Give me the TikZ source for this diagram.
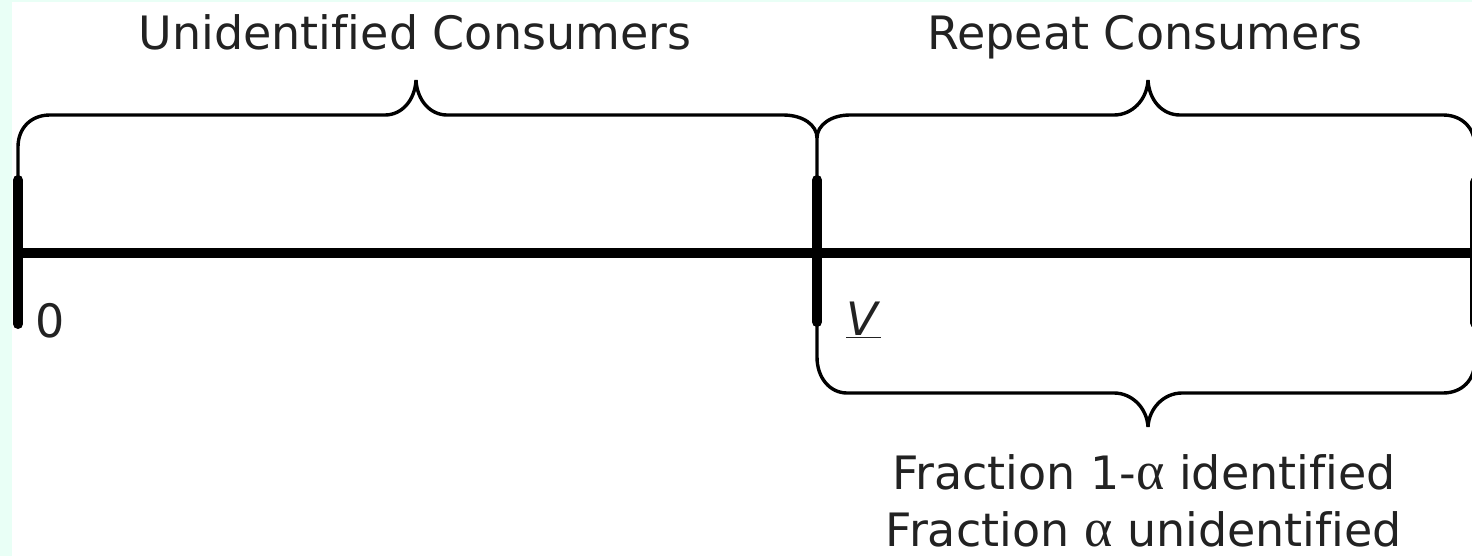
\documentclass[tikz,border=0pt]{standalone}
\usepackage{fontspec}
\setmainfont[Ligatures=NoCommon]{DejaVu Sans}
\newfontfamily\alphafont{Liberation Serif}
\definecolor{mint}{HTML}{E9FFF6}
\definecolor{ink}{HTML}{222222}
\newcommand{\alp}{{\alphafont\fontsize{27}{28}\selectfont α}}
\begin{document}
\begin{tikzpicture}[x=0.5pt,y=-0.5pt,
  axisline/.style={line width=5pt,black},
  tickline/.style={line width=5pt,black,line cap=round},
  braceline/.style={line width=1.7pt,black},
  lbl/.style={inner sep=0pt,text=ink,font=\fontsize{23}{28}\selectfont}]
\useasboundingbox (0,0) rectangle (1472,556);
\clip (0,0) rectangle (1472,556);
\fill[mint] (0,0) rectangle (12,556);
\fill[mint] (0,0) rectangle (1472,2);
% coordinates
\coordinate (L) at (18,253);
\coordinate (E) at (1472,253);
\coordinate (Ltop) at (18,180);
\coordinate (Lbot) at (18,324);
\coordinate (Mtop) at (817,180);
\coordinate (Mbot) at (817,322);
\coordinate (Rtop) at (1475,182);
\coordinate (Rbot) at (1475,323);
% axis
\draw[axisline] (L) -- (E);
% ticks
\draw[tickline] (Ltop) -- (Lbot);
\draw[tickline] (Mtop) -- (Mbot);
\draw[tickline] (Rtop) -- (Rbot);
% left top brace
\draw[braceline] (Ltop) -- (18,147) .. controls (18,128) and (31,115) .. (50,115)
  -- (385,115) .. controls (402,115) and (415,100) .. (416,80)
  .. controls (417,100) and (430,115) .. (447,115)
  -- (783,115) .. controls (803,115) and (817,125) .. (817,138);
% right top brace
\draw[braceline] (Mtop) -- (817,138) .. controls (817,125) and (831,115) .. (850,115)
  -- (1114,115) .. controls (1132,115) and (1147,100) .. (1148,80)
  .. controls (1149,100) and (1162,115) .. (1180,115)
  -- (1443,115) .. controls (1462,115) and (1475,128) .. (1475,147) -- (Rtop);
% bottom brace
\draw[braceline] (Mbot) -- (817,357) .. controls (817,378) and (830,393) .. (847,393)
  -- (1114,393) .. controls (1132,393) and (1147,408) .. (1148,427)
  .. controls (1149,408) and (1164,393) .. (1182,393)
  -- (1443,393) .. controls (1462,393) and (1475,380) .. (1475,360) -- (Rbot);
% labels
\node[lbl,anchor=base] (tu) at (415,50) {Unidentified Consumers};
\node[lbl,anchor=base] (tr) at (1145,50) {Repeat Consumers};
\node[lbl,anchor=base] (zero) at (50,337) {0};
\node[lbl,anchor=base west] (vlow) at (846,335) {\underline{\textit{V}}};
\node[lbl,anchor=base] (f1) at (1144,489) {Fraction 1-\alp{} identified};
\node[lbl,anchor=base] (f2) at (1144,546) {Fraction \alp{} unidentified};
\end{tikzpicture}
\end{document}
